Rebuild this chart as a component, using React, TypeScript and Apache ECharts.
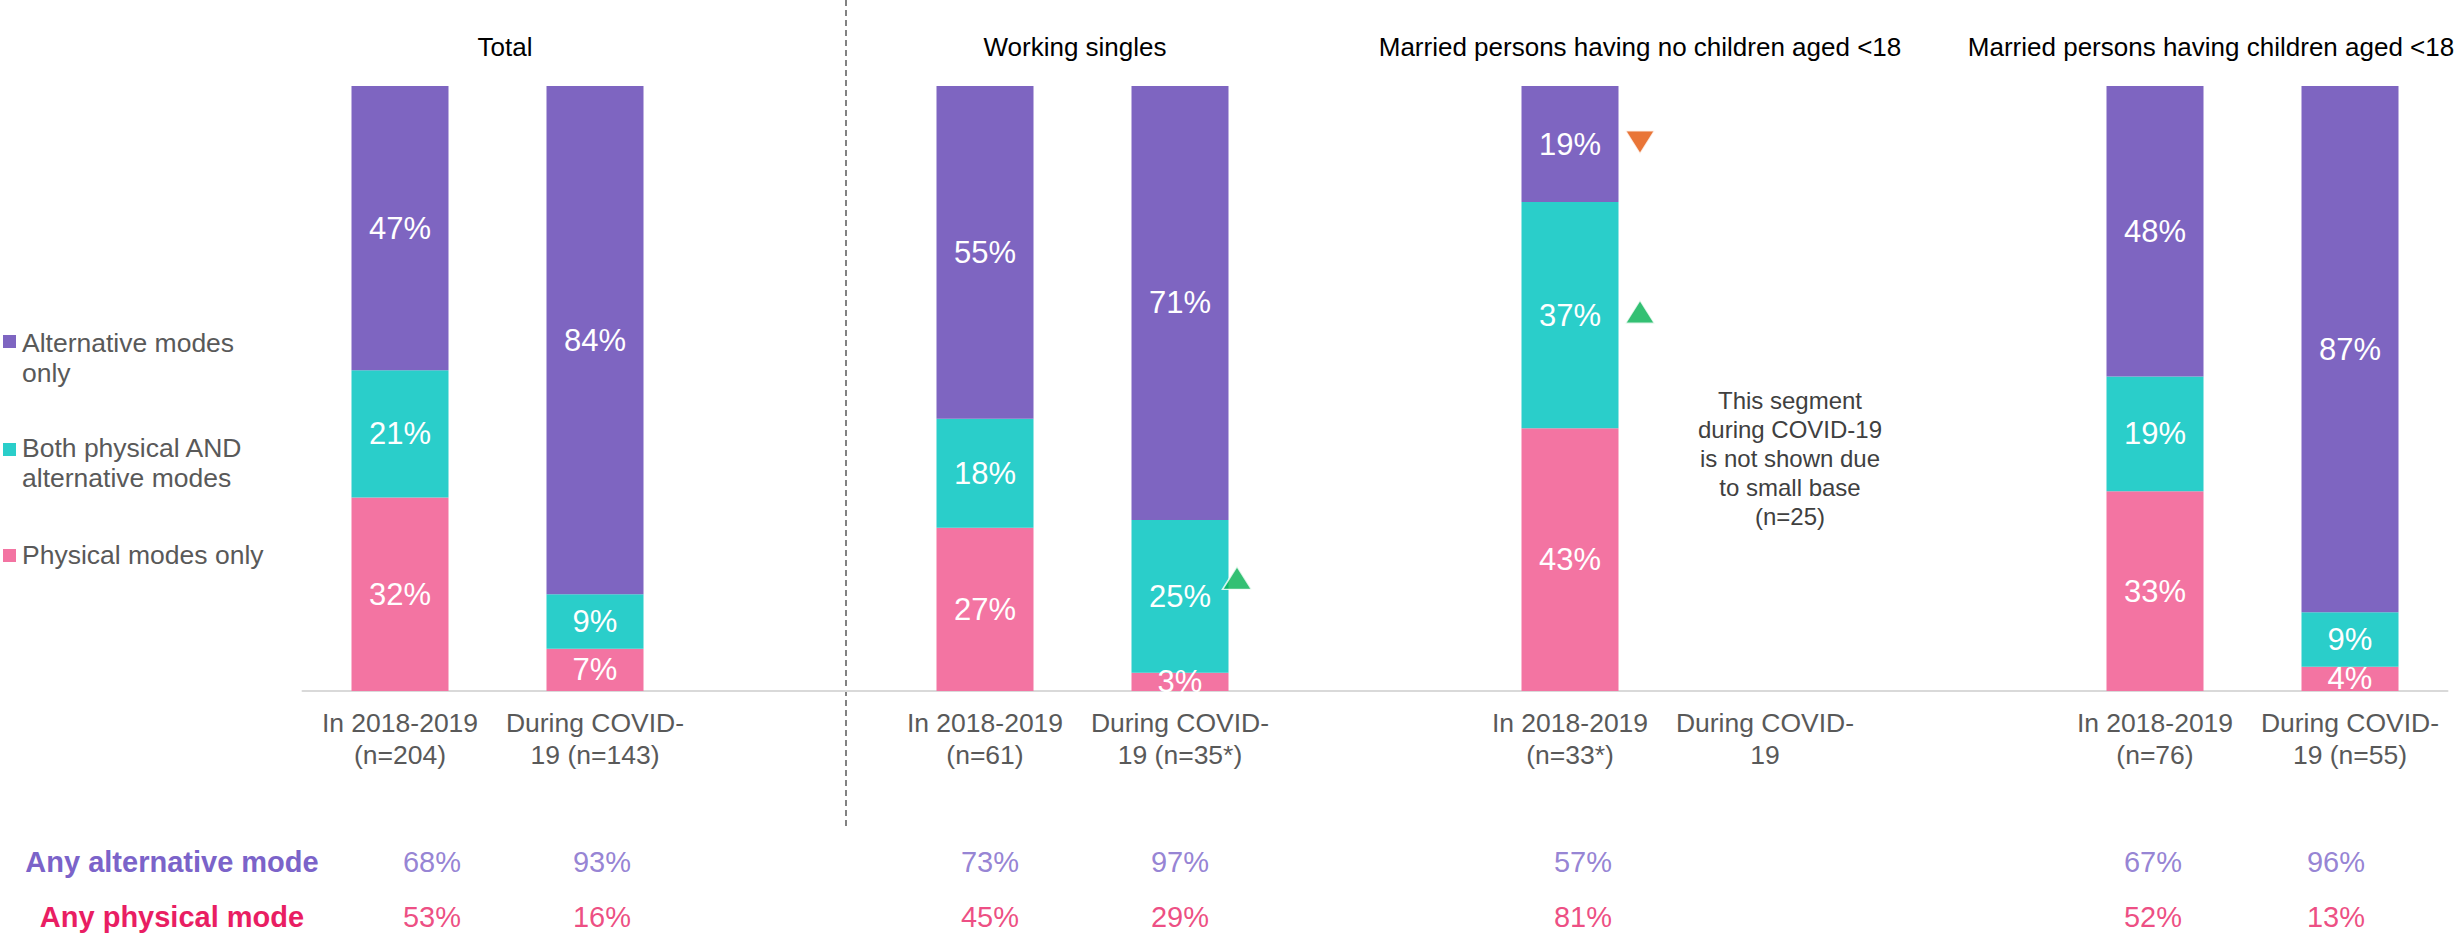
import React, { useEffect, useRef } from 'react';
import * as echarts from 'echarts';

// ---------- data ----------
const categories = [
  'In 2018-2019\n(n=204)', 'During COVID-\n19 (n=143)', '',
  'In 2018-2019\n(n=61)', 'During COVID-\n19 (n=35*)', '',
  'In 2018-2019\n(n=33*)', 'During COVID-\n19', '',
  'In 2018-2019\n(n=76)', 'During COVID-\n19 (n=55)',
];
const physicalOnly = [32, 7, null, 27, 3, null, 43, null, null, 33, 4];
const bothModes = [21, 9, null, 18, 25, null, 37, null, null, 19, 9];
const alternativeOnly = [47, 84, null, 55, 71, null, 19, null, null, 48, 87];
const anyAlternative = [68, 93, null, 73, 97, null, 57, null, null, 67, 96];
const anyPhysical = [53, 16, null, 45, 29, null, 81, null, null, 52, 13];
const segmentTitles = ['Total', 'Working singles', 'Married persons having no children aged <18', 'Married persons having children aged <18'];
const seriesNames = ['Physical modes only', 'Both physical AND alternative modes', 'Alternative modes only'];
const legendLabels = ['Alternative modes\nonly', 'Both physical AND\nalternative modes', 'Physical modes only'];
const rowLabels = ['Any alternative mode', 'Any physical mode'];
const noteText = 'This segment\nduring COVID-19\nis not shown due\nto small base\n(n=25)';
// significance markers: [categoryIndex, level on the 0-100 scale]
const markersUp = [[4, 18.7], [6, 62.7]];
const markersDown = [[6, 90.7]];

// ---------- styling / layout ----------
const FONT = 'Liberation Sans, Arial, sans-serif';
const C_ALT = '#7E65C1';
const C_BOTH = '#2ACECA';
const C_PHYS = '#F374A2';
const C_ALT_TXT = '#7B63C9';
const C_PHYS_TXT = '#E91E63';
const C_GREEN = '#00B050';
const C_ORANGE = '#E35205';
const GRAY = '#595959';
const valueOffsets = [32, 7, 0, 5, 0, 0, 13, 0, 0, -2, -14];
const markerOffsets: Record<number, number> = { 4: 57, 6: 70 };
const titleX = [505, 1075, 1640, 2211];

const rawSeries = [physicalOnly, bothModes, alternativeOnly];
const colors = [C_PHYS, C_BOTH, C_ALT];

export default function App() {
  const ref = useRef<HTMLDivElement>(null);
  useEffect(() => {
    if (!ref.current) return;
    const chart = echarts.init(ref.current, undefined, { renderer: 'svg' });
    const sums = categories.map((_, i) => rawSeries.reduce((s, arr) => s + (arr[i] ?? 0), 0));
    const barSeries = rawSeries.map((raw, k) => ({
      type: 'bar',
      name: seriesNames[k],
      stack: 'modes',
      barWidth: 97,
      data: raw.map((v, i) => (v == null ? null : (v / sums[i]) * 100)),
      itemStyle: { color: colors[k] },
      label: {
        show: true,
        position: 'inside',
        color: '#ffffff',
        fontSize: 31,
        fontFamily: FONT,
        formatter: (p: any) => (raw[p.dataIndex] == null ? '' : raw[p.dataIndex] + '%'),
      },
      silent: true,
    }));
    const rowSeries = [anyAlternative, anyPhysical].map((arr, r) => ({
      type: 'scatter',
      clip: false,
      silent: true,
      symbolSize: 1,
      itemStyle: { color: 'transparent' },
      data: arr
        .map((v, i) => (v == null ? null : { value: [i, 0], label: { offset: [valueOffsets[i], r === 0 ? 171 : 226] } }))
        .filter((d) => d !== null),
      label: {
        show: true,
        position: 'inside',
        fontSize: 29,
        fontFamily: FONT,
        color: r === 0 ? C_ALT_TXT : C_PHYS_TXT,
        formatter: (p: any) => arr[p.data.value[0]] + '%',
      },
      z: 5,
    }));
    const markerSeries = {
      type: 'scatter',
      clip: false,
      silent: true,
      symbol: 'triangle',
      symbolSize: [29, 23],
      data: [
        ...markersUp.map(([i, y]) => ({
          value: [i, y],
          symbolOffset: [markerOffsets[i], 0],
          itemStyle: { color: C_GREEN, borderColor: '#ffffff', borderWidth: 1.5 },
        })),
        ...markersDown.map(([i, y]) => ({
          value: [i, y],
          symbolRotate: 180,
          symbolOffset: [markerOffsets[i], 0],
          itemStyle: { color: C_ORANGE, borderColor: '#ffffff', borderWidth: 1.5 },
        })),
      ],
      z: 6,
    };

    const legendItems = [
      { color: C_ALT, label: legendLabels[0], top: 328, sq: 335 },
      { color: C_BOTH, label: legendLabels[1], top: 433, sq: 443 },
      { color: C_PHYS, label: legendLabels[2], top: 540, sq: 549 },
    ];

    const graphic: any[] = [
      {
        type: 'line',
        silent: true,
        shape: { x1: 846, y1: 0, x2: 846, y2: 826 },
        style: { stroke: GRAY, lineWidth: 1.5, lineDash: [6, 4] },
      },
      ...segmentTitles.map((t, i) => ({
        type: 'text',
        x: titleX[i],
        y: 47,
        style: { text: t, fill: '#000000', fontSize: 26, fontFamily: FONT, align: 'center', verticalAlign: 'middle' },
      })),
      ...legendItems.flatMap((it) => [
        { type: 'rect', shape: { x: 3, y: it.sq, width: 13, height: 13 }, style: { fill: it.color } },
        {
          type: 'text',
          x: 22,
          y: it.top,
          style: { text: it.label, fill: GRAY, fontSize: 26.5, lineHeight: 30, fontFamily: FONT, align: 'left', verticalAlign: 'top' },
        },
      ]),
      {
        type: 'text',
        x: 1790,
        y: 386,
        style: { text: noteText, fill: '#404040', fontSize: 24, lineHeight: 29, fontFamily: FONT, align: 'center', verticalAlign: 'top' },
      },
      {
        type: 'text',
        x: 172,
        y: 862,
        style: { text: rowLabels[0], fill: C_ALT_TXT, fontSize: 29, fontWeight: 'bold', fontFamily: FONT, align: 'center', verticalAlign: 'middle' },
      },
      {
        type: 'text',
        x: 172,
        y: 917,
        style: { text: rowLabels[1], fill: C_PHYS_TXT, fontSize: 29, fontWeight: 'bold', fontFamily: FONT, align: 'center', verticalAlign: 'middle' },
      },
    ];

    chart.setOption({
      animation: false,
      backgroundColor: '#ffffff',
      textStyle: { fontFamily: FONT },
      grid: { left: 302.5, right: 16.5, top: 86, bottom: 246, containLabel: false },
      xAxis: {
        type: 'category',
        data: categories,
        axisLine: { show: true, lineStyle: { color: '#D9D9D9', width: 2 } },
        axisTick: { show: false },
        axisLabel: { interval: 0, color: GRAY, fontSize: 26.5, lineHeight: 32, margin: 16, fontFamily: FONT },
      },
      yAxis: {
        type: 'value',
        min: 0,
        max: 100,
        show: false,
        splitLine: { show: false },
      },
      series: [...barSeries, ...rowSeries, markerSeries],
      graphic,
    });
    return () => chart.dispose();
  }, []);
  return <div ref={ref} style={{ position: 'absolute', left: 0, top: 0, width: 2464, height: 937, background: '#fff' }} />;
}
